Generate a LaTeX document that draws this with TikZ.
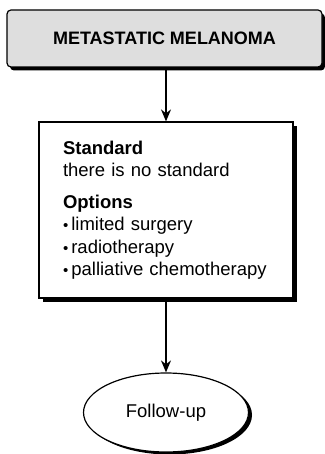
\documentclass[tikz,border=0pt]{standalone}
\usepackage{fontspec}
\setmainfont{Liberation Sans}
\usetikzlibrary{shapes.geometric,shadows,arrows.meta}

\newcommand{\optbullet}{{\fontsize{15}{15}\selectfont•}\,}

\tikzset{
  titlebox/.style = {draw, line width=1.2pt, rounded corners=4pt, fill=black!13,
    minimum width=315pt, minimum height=57pt, inner sep=0pt,
    font=\fontsize{18}{22}\selectfont\bfseries,
    drop shadow={shadow xshift=3pt, shadow yshift=-3.5pt, fill=black, opacity=1}},
  stdbox/.style = {draw, line width=1.2pt, fill=white,
    minimum width=254pt, minimum height=176pt, inner xsep=24pt, inner ysep=0pt,
    text width=206pt, align=left, font=\fontsize{18.5}{22.5}\selectfont,
    drop shadow={shadow xshift=4pt, shadow yshift=-4pt, fill=black, opacity=1}},
  endnode/.style = {draw, ellipse, line width=1.2pt, fill=white,
    minimum width=165pt, minimum height=79pt, inner sep=0pt,
    font=\fontsize{18.5}{22}\selectfont,
    drop shadow={shadow xshift=3.5pt, shadow yshift=-2.5pt, fill=black, opacity=1}},
  flow/.style = {line width=1.3pt, -{Stealth[length=12pt,width=10pt]}}
}

\begin{document}
\begin{tikzpicture}[x=1pt, y=-1pt]
\useasboundingbox (0,0) rectangle (324,454);

\node[titlebox] (meta) at (164.5,38.5) {METASTATIC MELANOMA};
\node[stdbox] (std) at (166,210) {\textbf{Standard}\\
there is no standard\\[9pt]
\textbf{Options}\\
\optbullet limited surgery\\
\optbullet radiotherapy\\
\optbullet palliative chemotherapy};
\node[endnode] (follow) at (166,412.5) {Follow-up};

% connectors
\draw[flow] (meta.south -| std.north) -- (std.north);
\draw[flow] (std.south) -- (follow.north);
\end{tikzpicture}
\end{document}
